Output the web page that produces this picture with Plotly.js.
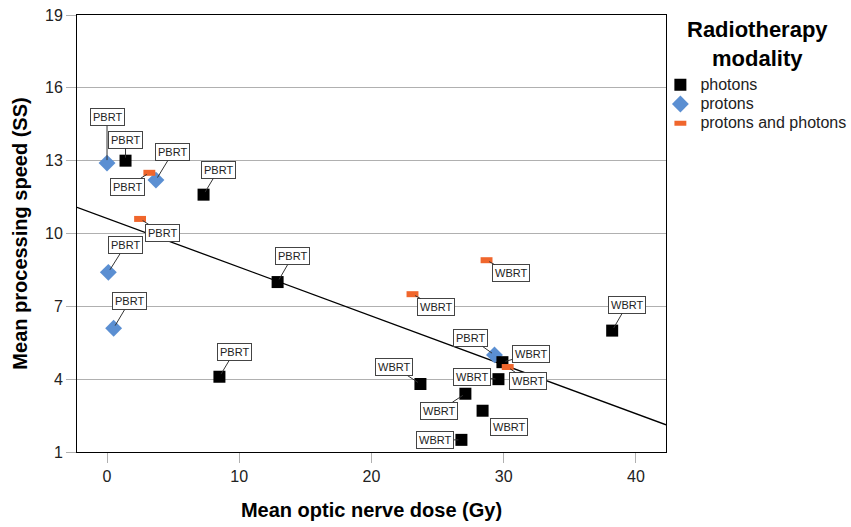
<!DOCTYPE html>
<html>
<head>
<meta charset="utf-8">
<script src="https://cdn.plot.ly/plotly-3.0.1.min.js"></script>
<style>html,body{margin:0;padding:0;background:#fff;}</style>
</head>
<body>
<div id="chart" style="width:851px;height:527px;"></div>
<script>
// ---- data ----
const photonsX = [1.4, 7.3, 12.9, 8.5, 23.7, 27.1, 28.4, 26.8, 29.6, 29.9, 38.2];
const photonsY = [13.0, 11.6, 8.0, 4.1, 3.8, 3.4, 2.7, 1.5, 4.0, 4.7, 6.0];
const photonsLabel = ['PBRT','PBRT','PBRT','PBRT','WBRT','WBRT','WBRT','WBRT','WBRT','WBRT','WBRT'];

const protonsX = [0.0, 3.7, 0.1, 0.5, 29.3];
const protonsY = [12.9, 12.2, 8.4, 6.1, 5.0];
const protonsLabel = ['PBRT','PBRT','PBRT','PBRT','PBRT'];

const mixedX = [3.2, 2.5, 28.7, 23.1, 30.3];
const mixedY = [12.5, 10.6, 8.9, 7.5, 4.5];
const mixedLabel = ['PBRT','PBRT','WBRT','WBRT','WBRT'];

const seriesNames = ['photons', 'protons', 'protons and photons'];
const legendTitle = 'Radiotherapy<br>modality';

const trendX = [-2.27, 42.27];
const trendY = [11.08, 2.12];
const refY = 10;

const xTicks = [0, 10, 20, 30, 40];
const yTicks = [1, 4, 7, 10, 13, 16, 19];

// label offsets (pixels) – layout only
const photonsOff = [[0,-21],[15,-25],[15,-26],[15,-25],[-26,-17],[-26,17],[26,16],[-26,0],[-26,-2],[29,-8],[15,-26]];
const protonsOff = [[0,-46],[17,-28],[17,-27],[16,-27],[-24,-17]];
const mixedOff = [[-22,14],[22,14],[24,13],[24,13],[20,14]];

const FONT = 'Liberation Sans, Arial, Helvetica, sans-serif';
const BLUE = '#5b8fd2';
const ORANGE = '#f0662c';
const legName = s => '<span style="font-size:16px">' + s + '</span>';

const traces = [
  {x: trendX, y: trendY, mode: 'lines', line: {color: '#000', width: 1.3}, showlegend: false, hoverinfo: 'skip'},
  {x: protonsX, y: protonsY, mode: 'markers', name: legName(seriesNames[1]), legendrank: 2,
   marker: {symbol: 'diamond', size: 13, color: BLUE}},
  {x: photonsX, y: photonsY, mode: 'markers', name: legName(seriesNames[0]), legendrank: 1,
   marker: {symbol: 'square', size: 12, color: '#000'}},
  {x: mixedX, y: mixedY, mode: 'markers', name: legName(seriesNames[2]), legendrank: 3,
   marker: {symbol: 'line-ew', size: 8.5, color: ORANGE, line: {color: ORANGE, width: 6}}}
];

const annotations = [];
function addLabels(xs, ys, labels, offs) {
  xs.forEach((x, i) => {
    annotations.push({
      x: x, y: ys[i], xref: 'x', yref: 'y', text: labels[i],
      showarrow: true, arrowhead: 0, arrowwidth: 1, arrowcolor: '#333',
      ax: offs[i][0], ay: offs[i][1], standoff: 3,
      font: {family: FONT, size: 11, color: '#222'},
      bgcolor: '#fff', bordercolor: '#444', borderwidth: 1, borderpad: 2
    });
  });
}
addLabels(photonsX, photonsY, photonsLabel, photonsOff);
addLabels(protonsX, protonsY, protonsLabel, protonsOff);
addLabels(mixedX, mixedY, mixedLabel, mixedOff);

// legend title (two centred lines)
annotations.push({
  xref: 'paper', yref: 'paper', x: 1.1545, y: 0.9336, xanchor: 'center', yanchor: 'middle',
  text: '<b>' + legendTitle + '</b>', showarrow: false, align: 'center',
  font: {family: FONT, size: 22, color: '#000'}
});

const layout = {
  width: 851, height: 527,
  margin: {l: 77, r: 185, t: 15, b: 75, autoexpand: false},
  paper_bgcolor: '#fff', plot_bgcolor: '#fff',
  font: {family: FONT, size: 16, color: '#222'},
  showlegend: true,
  xaxis: {
    range: [-2.27, 42.27], tickvals: xTicks, ticktext: xTicks.map(String),
    showgrid: false, zeroline: false,
    showline: true, linecolor: '#000', linewidth: 1, mirror: true,
    ticks: 'outside', ticklen: 10, tickcolor: '#b0b0b0', tickwidth: 1,
    tickfont: {family: FONT, size: 16, color: '#222'},
    title: {text: '<b>Mean optic nerve dose (Gy)</b>', font: {family: FONT, size: 20, color: '#000'}, standoff: 18}
  },
  yaxis: {
    range: [1, 19], tickvals: yTicks, ticktext: yTicks.map(String),
    showgrid: true, gridcolor: '#b0b0b0', gridwidth: 1, zeroline: false,
    showline: true, linecolor: '#000', linewidth: 1, mirror: true,
    ticks: 'outside', ticklen: 10, tickcolor: '#b0b0b0', tickwidth: 1,
    tickfont: {family: FONT, size: 16, color: '#222'},
    title: {text: '<b>Mean processing speed (SS)</b>', font: {family: FONT, size: 20, color: '#000'}, standoff: 12}
  },
  shapes: [
    {type: 'line', xref: 'paper', x0: 0, x1: 1, yref: 'y', y0: refY, y1: refY, line: {color: '#000', width: 1}, layer: 'below'}
  ],
  legend: {
    xref: 'container', yref: 'container',
    x: 0.776, xanchor: 'left', y: 0.867, yanchor: 'top',
    bgcolor: 'rgba(0,0,0,0)', borderwidth: 0,
    font: {family: FONT, size: 12.5, color: '#222'},
    itemwidth: 30, tracegroupgap: 0
  },
  annotations: annotations
};

Plotly.newPlot('chart', traces, layout, {displayModeBar: false, staticPlot: true});
</script>
</body>
</html>
